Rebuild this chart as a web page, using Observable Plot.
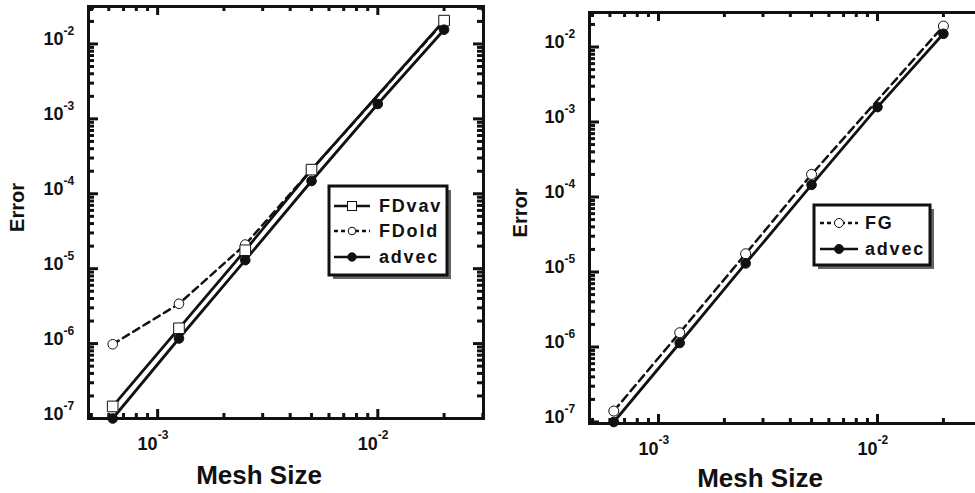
<!DOCTYPE html>
<html><head><meta charset="utf-8">
<script src="https://cdn.jsdelivr.net/npm/d3@7"></script>
<script src="https://cdn.jsdelivr.net/npm/@observablehq/plot@0.6"></script>
<style>
html,body{margin:0;padding:0;background:#fff;overflow:hidden;}
#wrap{position:relative;width:975px;height:493px;overflow:hidden;font-family:"Liberation Sans",Arial,sans-serif;}
#left{position:absolute;left:0;top:0;width:490px;height:493px;}
#right{position:absolute;left:490px;top:0;width:520px;height:493px;}
#legend{position:absolute;left:0;top:0;}
</style></head><body><div id="wrap"><div id="left"></div><div id="right"></div></div>
<script>
// ---- data ----
const meshSize = [0.000625, 0.00125, 0.0025, 0.005, 0.01, 0.02];
const meshSizeSparse = [0.000625, 0.00125, 0.0025, 0.005, 0.02];
const advecLeft = [1.0e-7, 1.17e-6, 1.3e-5, 1.48e-4, 1.58e-3, 1.55e-2];
const fdvav = [1.45e-7, 1.6e-6, 1.76e-5, 2.1e-4, 2.05e-2];
const fdold = [9.8e-7, 3.4e-6, 2.1e-5, 2.1e-4, 2.0e-2];
const advecRight = [1.0e-7, 1.13e-6, 1.3e-5, 1.45e-4, 1.58e-3, 1.5e-2];
const fg = [1.4e-7, 1.55e-6, 1.75e-5, 2.0e-4, 1.9e-2];
const yTickValues = [1e-7, 1e-6, 1e-5, 1e-4, 1e-3, 1e-2];
const yTickExp = ["-7", "-6", "-5", "-4", "-3", "-2"];
const xTickValues = [1e-3, 1e-2];
const xTickExp = ["-3", "-2"];
const tickBase = "10";
const xTitle = "Mesh Size";
const yTitle = "Error";
const leftLegendLabels = ["FDvav", "FDold", "advec"];
const rightLegendLabels = ["FG", "advec"];

const FONT = '"Liberation Sans", Arial, sans-serif';
const H = 493;

function minorTicks(domain) {
  const out = [];
  for (let k = -9; k <= 0; k++) for (let m = 2; m <= 9; m++) {
    const v = m * Math.pow(10, k);
    if (v > domain[0] && v < domain[1]) out.push(v);
  }
  return out;
}

const rows = (xs, ys) => xs.map((x, i) => ({x, y: ys[i]}));

function panel(opt) {
  const {width, marginLeft, marginRight, marginTop, marginBottom, xDomain, yDomain, series, titleDx, titleDy, errDx, errDy} = opt;
  const innerH = H - marginTop - marginBottom;
  const innerW = width - marginLeft - marginRight;
  const xMin = minorTicks(xDomain), yMin = minorTicks(yDomain);
  const tickStyle = {stroke: "#111", strokeWidth: 3};
  const txt = {fontWeight: "bold", fill: "#111", lineAnchor: "middle"};
  const marks = [
    Plot.frame({stroke: "#111", strokeWidth: 3}),
    Plot.tickX(xTickValues, {x: d => d, insetTop: innerH - 9, ...tickStyle}),
    Plot.tickX(xTickValues, {x: d => d, insetBottom: innerH - 9, ...tickStyle}),
    Plot.tickX(xMin, {x: d => d, insetTop: innerH - 5, ...tickStyle}),
    Plot.tickX(xMin, {x: d => d, insetBottom: innerH - 5, ...tickStyle}),
    Plot.tickY(yTickValues, {y: d => d, insetRight: innerW - 10, ...tickStyle}),
    Plot.tickY(yTickValues, {y: d => d, insetLeft: innerW - 10, ...tickStyle}),
    Plot.tickY(yMin, {y: d => d, insetRight: innerW - 6, ...tickStyle}),
    Plot.tickY(yMin, {y: d => d, insetLeft: innerW - 6, ...tickStyle}),
    // tick labels
    Plot.text(yTickValues, {y: d => d, frameAnchor: "left", text: () => tickBase, textAnchor: "end", dx: -25, dy: -4.5, fontSize: 18, ...txt}),
    Plot.text(yTickValues, {y: d => d, frameAnchor: "left", text: (d, i) => yTickExp[i], textAnchor: "start", dx: -25, dy: -12.5, fontSize: 12, ...txt}),
    Plot.text(xTickValues, {x: d => d, frameAnchor: "bottom", text: () => tickBase, textAnchor: "end", dx: 0, dy: 25.5, fontSize: 18, ...txt}),
    Plot.text(xTickValues, {x: d => d, frameAnchor: "bottom", text: (d, i) => xTickExp[i], textAnchor: "start", dx: 0, dy: 17, fontSize: 12, ...txt}),
    // titles
    Plot.text([xTitle], {frameAnchor: "bottom", text: d => d, textAnchor: "middle", dx: titleDx, dy: titleDy, fontSize: 26, ...txt}),
    Plot.text([yTitle], {frameAnchor: "left", text: d => d, textAnchor: "middle", rotate: -90, dx: errDx, dy: errDy, fontSize: 20, ...txt})
  ];
  for (const s of series) {
    marks.push(Plot.line(s.data, {x: "x", y: "y", stroke: "#111", strokeWidth: s.dash ? 2.5 : 2.8, strokeDasharray: s.dash || null}));
  }
  for (const s of series) {
    marks.push(Plot.dot(s.data, {x: "x", y: "y", symbol: s.symbol, r: s.r, fill: s.fill, stroke: "#111", strokeWidth: 1}));
  }
  return Plot.plot({
    width, height: H, marginLeft, marginRight, marginTop, marginBottom,
    style: {fontFamily: FONT, background: "transparent", overflow: "visible", maxWidth: "none", width: width + "px", height: H + "px"},
    x: {type: "log", domain: xDomain, axis: null},
    y: {type: "log", domain: yDomain, axis: null},
    marks
  });
}

const leftSeries = [
  {data: rows(meshSizeSparse, fdold), dash: "7,5", symbol: "circle", r: 4.8, fill: "white"},
  {data: rows(meshSizeSparse, fdvav), dash: null, symbol: "square", r: 6, fill: "white"},
  {data: rows(meshSize, advecLeft), dash: null, symbol: "circle", r: 4.8, fill: "#111"}
];
const rightSeries = [
  {data: rows(meshSizeSparse, fg), dash: "8,5", symbol: "circle", r: 5, fill: "white"},
  {data: rows(meshSize, advecRight), dash: null, symbol: "circle", r: 4.8, fill: "#111"}
];

document.getElementById("left").appendChild(panel({
  width: 490, marginLeft: 88, marginRight: 7, marginTop: 6, marginBottom: 75,
  xDomain: [Math.pow(10, -3.314), Math.pow(10, -1.52)], yDomain: [1e-7, Math.pow(10, -1.5)],
  series: leftSeries, titleDx: -27, titleDy: 57.5, errDx: -71, errDy: -5
}));
document.getElementById("right").appendChild(panel({
  width: 520, marginLeft: 99, marginRight: 6, marginTop: 12, marginBottom: 70,
  xDomain: [Math.pow(10, -3.315), Math.pow(10, -1.42)], yDomain: [Math.pow(10, -7.02), Math.pow(10, -1.54)],
  series: rightSeries, titleDx: -37, titleDy: 55, errDx: -69, errDy: -5
}));

// ---- legends ----
const svg = d3.select("#wrap").append("svg").attr("id", "legend").attr("width", 975).attr("height", H)
  .style("font-family", FONT);

function legend(box, items) {
  const g = svg.append("g");
  g.append("rect").attr("x", box.x + 4).attr("y", box.y + 4).attr("width", box.w).attr("height", box.h).attr("fill", "#666");
  g.append("rect").attr("x", box.x).attr("y", box.y).attr("width", box.w).attr("height", box.h)
    .attr("fill", "white").attr("stroke", "#111").attr("stroke-width", 3);
  items.forEach((it, i) => {
    const y = box.rowY[i];
    g.append("line").attr("x1", box.sx1).attr("x2", box.sx2).attr("y1", y).attr("y2", y)
      .attr("stroke", "#111").attr("stroke-width", 2.5).attr("stroke-dasharray", it.dash || null);
    if (it.symbol === "square") {
      g.append("rect").attr("x", box.mx - 4.5).attr("y", y - 4.5).attr("width", 9).attr("height", 9)
        .attr("fill", "white").attr("stroke", "#111").attr("stroke-width", 1);
    } else {
      g.append("circle").attr("cx", box.mx).attr("cy", y).attr("r", it.r)
        .attr("fill", it.fill).attr("stroke", "#111").attr("stroke-width", 1);
    }
    g.append("text").attr("x", box.tx).attr("y", y).attr("dy", "0.36em")
      .attr("font-size", 18).attr("font-weight", "bold").attr("letter-spacing", "1.8px")
      .attr("fill", "#111").text(it.label);
  });
}

legend({x: 329, y: 186, w: 118, h: 89, rowY: [206, 231, 257], sx1: 334, sx2: 370, mx: 352, tx: 379},
  [{label: leftLegendLabels[0], symbol: "square"},
   {label: leftLegendLabels[1], symbol: "circle", r: 3.8, fill: "white", dash: "4,3"},
   {label: leftLegendLabels[2], symbol: "circle", r: 4.2, fill: "#111"}]);
legend({x: 814, y: 205, w: 116, h: 60, rowY: [223, 249], sx1: 820, sx2: 858, mx: 839, tx: 865},
  [{label: rightLegendLabels[0], symbol: "circle", r: 4.5, fill: "white", dash: "4,3"},
   {label: rightLegendLabels[1], symbol: "circle", r: 4.5, fill: "#111"}]);
</script></body></html>
